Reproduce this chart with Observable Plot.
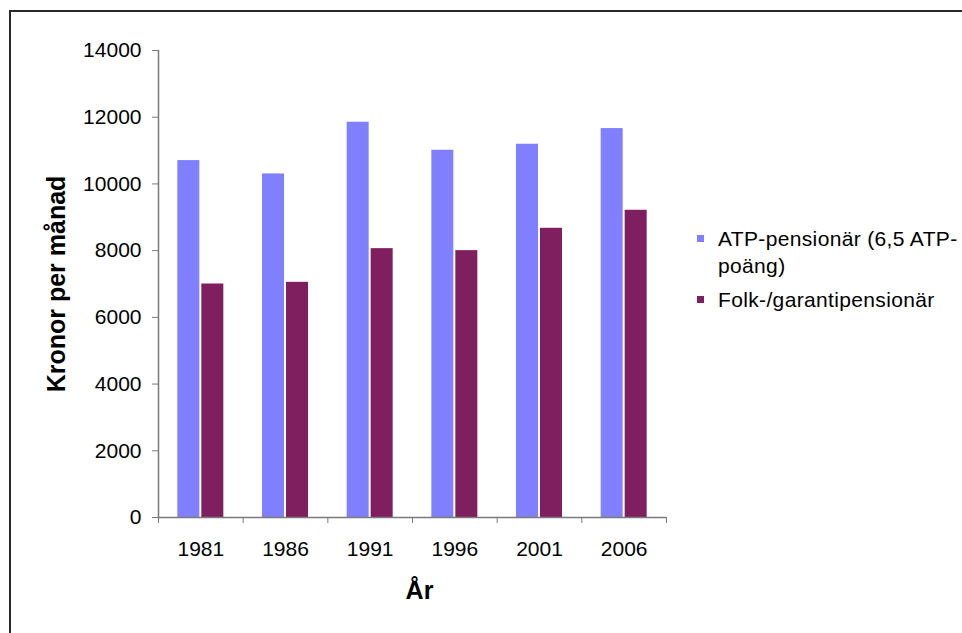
<!DOCTYPE html>
<html>
<head>
<meta charset="utf-8">
<script src="https://cdn.jsdelivr.net/npm/d3@7"></script>
<script src="https://cdn.jsdelivr.net/npm/@observablehq/plot@0.6"></script>
<style>
  html, body { margin: 0; padding: 0; background: #fff; overflow: hidden; }
  #wrap { position: relative; width: 962px; height: 633px; overflow: hidden; font-family: "Liberation Sans", Arial, sans-serif; }
  #frame { position: absolute; left: 9px; top: 10px; width: 1200px; height: 900px; border-left: 2px solid #2a2a2a; border-top: 2px solid #2a2a2a; box-sizing: border-box; }
  #chart { position: absolute; left: 0; top: 0; }
  .leg { position: absolute; left: 697px; font-size: 21px; letter-spacing: 0.35px; line-height: 27px; color: #000; }
  .leg .sw { position: absolute; left: 0; width: 7px; height: 7px; }
  .leg .tx { position: absolute; left: 21px; width: 244px; }
</style>
</head>
<body>
<div id="wrap">
  <div id="frame"></div>
  <div id="chart"></div>
  <div id="legend"></div>
</div>
<script>
// ---- data ----
const years = [1981, 1986, 1991, 1996, 2001, 2006];
const atpValues = [10700, 10300, 11850, 11010, 11190, 11660];
const folkValues = [7000, 7050, 8060, 8000, 8670, 9210];
const seriesNames = ["ATP-pensionär (6,5 ATP-poäng)", "Folk-/garantipensionär"];
const seriesColors = ["#8080ff", "#7f1f5f"];
const yTicks = [0, 2000, 4000, 6000, 8000, 10000, 12000, 14000];
const yTitle = "Kronor per månad";
const xTitle = "År";

// ---- layout ----
const W = 962, H = 633, ML = 158, MR = 296, MT = 50, MB = 116;
const step = years[1] - years[0];
const half = step / 2;
const xDomain = [years[0] - half, years[years.length - 1] + half];
const bandPx = (W - ML - MR) / years.length;
const barW = 22, gap = 2;

const rows = years.flatMap((yr, i) => [
  {year: yr, series: seriesNames[0], value: atpValues[i]},
  {year: yr, series: seriesNames[1], value: folkValues[i]}
]);
const boundaries = years.map(y => y - half).concat([years[years.length - 1] + half]);

const axisColor = "#7a7a7a";

const chart = Plot.plot({
  width: W, height: H,
  marginLeft: ML, marginRight: MR, marginTop: MT, marginBottom: MB,
  x: {domain: xDomain, axis: null},
  y: {domain: [0, 14000], axis: null},
  style: {fontFamily: "'Liberation Sans', Arial, sans-serif", fontSize: "21px", color: "black", background: "transparent"},
  marks: [
    Plot.rectY(rows.filter(d => d.series === seriesNames[0]), {
      x1: d => d.year - half, x2: d => d.year + half, y: "value",
      fill: seriesColors[0],
      insetLeft: bandPx / 2 - gap / 2 - barW, insetRight: bandPx / 2 + gap / 2
    }),
    Plot.rectY(rows.filter(d => d.series === seriesNames[1]), {
      x1: d => d.year - half, x2: d => d.year + half, y: "value",
      fill: seriesColors[1],
      insetLeft: bandPx / 2 + gap / 2, insetRight: bandPx / 2 - gap / 2 - barW
    }),
    Plot.ruleX([xDomain[0]], {y1: 0, y2: 14000, stroke: axisColor, strokeWidth: 1.5}),
    Plot.ruleY([0], {stroke: axisColor, strokeWidth: 1.5}),
    Plot.axisY({ticks: yTicks, tickSize: 6, tickPadding: 11, tickFormat: d => String(d), label: null, stroke: axisColor, fill: "black", fontSize: 21}),
    Plot.axisX({ticks: boundaries, tickSize: 6, tickFormat: () => "", label: null, stroke: axisColor}),
    Plot.axisX({ticks: years, tickSize: 0, tickPadding: 24, tickFormat: d => String(d), label: null, fill: "black", fontSize: 21}),
    Plot.text([yTitle], {text: d => d, frameAnchor: "left", dx: -102, rotate: -90, textAnchor: "middle", lineAnchor: "middle", fontSize: 25, fontWeight: "bold", fill: "black"}),
    Plot.text([xTitle], {text: d => d, frameAnchor: "bottom", dx: 7, dy: 73, lineAnchor: "middle", fontSize: 25, fontWeight: "bold", fill: "black"})
  ]
});
document.getElementById("chart").appendChild(chart);

// ---- legend ----
const legend = document.getElementById("legend");
const legTops = [225, 286];
seriesNames.forEach((name, i) => {
  const item = document.createElement("div");
  item.className = "leg";
  item.style.top = legTops[i] + "px";
  const sw = document.createElement("div");
  sw.className = "sw";
  sw.style.background = seriesColors[i];
  sw.style.top = "10px";
  const tx = document.createElement("div");
  tx.className = "tx";
  tx.textContent = name;
  item.appendChild(sw);
  item.appendChild(tx);
  legend.appendChild(item);
});
</script>
</body>
</html>
